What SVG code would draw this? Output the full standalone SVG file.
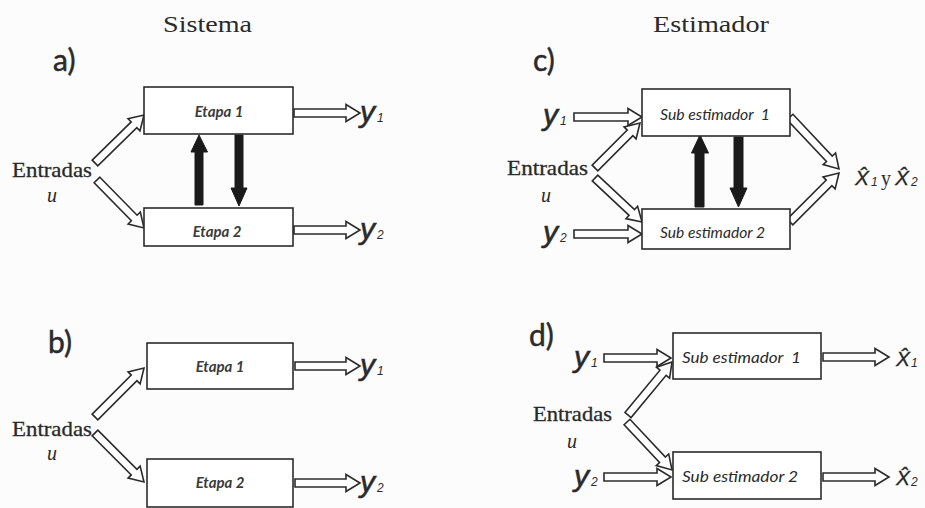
<svg xmlns="http://www.w3.org/2000/svg" width="925" height="508" viewBox="0 0 925 508">
  <style>
    .bg { fill: #fcfcfc; }
    .box { fill: #ffffff; stroke: #2b2b2b; stroke-width: 1.6; }
    .hollow { fill: #ffffff; stroke: #2b2b2b; stroke-width: 1.6; stroke-linejoin: miter; }
    .solid { fill: #1a1a1a; stroke: #1a1a1a; stroke-width: 1; }
    .title { font-family: "Liberation Serif", "DejaVu Serif", serif; font-size: 24px; fill: #2a2a2a; }
    .tag { font-family: Lato, "Open Sans", sans-serif; font-size: 30px; fill: #2a2a2a; stroke: #2a2a2a; stroke-width: 0.5; }
    .inp { font-family: "Liberation Serif", "DejaVu Serif", serif; font-size: 21px; fill: #2a2a2a; stroke: #2a2a2a; stroke-width: 0.3; }
    .u { font-family: "Liberation Serif", "DejaVu Serif", serif; font-style: italic; font-size: 20px; fill: #2a2a2a; }
    .stage { font-family: Lato, "Open Sans", sans-serif; font-style: italic; font-weight: bold; font-size: 15px; fill: #3a3a3a; }
    .sub { font-family: Lato, "Open Sans", sans-serif; font-style: italic; font-size: 15px; fill: #2a2a2a; }
    .sig { font-family: "Liberation Sans", Arial, sans-serif; font-style: italic; font-size: 30px; fill: #2a2a2a; stroke: #2a2a2a; stroke-width: 0.6; }
    .idx { font-family: "Liberation Sans", Arial, sans-serif; font-style: italic; font-size: 12px; fill: #2a2a2a; }
    .est { font-family: "Liberation Sans", Arial, sans-serif; font-style: italic; font-size: 21px; fill: #2a2a2a; stroke: #2a2a2a; stroke-width: 0.3; }
    .y { font-family: "Liberation Serif", "DejaVu Serif", serif; font-size: 20px; fill: #2a2a2a; }
  </style>

  <rect class="bg" x="0" y="0" width="925" height="508"/>

  <!-- column titles and panel tags -->
  <g id="titles">
    <text class="title" x="163" y="32" textLength="89" lengthAdjust="spacingAndGlyphs">Sistema</text>
    <text class="title" x="653" y="32" textLength="116" lengthAdjust="spacingAndGlyphs">Estimador</text>
    <text class="tag" x="53" y="71">a)</text>
    <text class="tag" x="48" y="353">b)</text>
    <text class="tag" x="533" y="71">c)</text>
    <text class="tag" x="529" y="346">d)</text>
  </g>

  <!-- connectors: hollow block arrows (drawn along +x, then placed) and solid coupling arrows -->
  <g id="connectors">
    <!-- a) -->
    <path class="hollow" transform="translate(95,163) rotate(-44.4)" d="M0,-4 H54.6 V-8.5 L68.6,0 L54.6,8.5 V4 H0 Z"/>
    <path class="hollow" transform="translate(97,180) rotate(45.6)" d="M0,-4 H53.2 V-8.5 L67.2,0 L53.2,8.5 V4 H0 Z"/>
    <path class="hollow" transform="translate(294,113)" d="M0,-4 H52 V-8.5 L66,0 L52,8.5 V4 H0 Z"/>
    <path class="hollow" transform="translate(294,230)" d="M0,-4 H52 V-8.5 L66,0 L52,8.5 V4 H0 Z"/>
    <path class="solid" d="M195,205 V152 H191 L199,135 L207.5,152 H203 V205 Z"/>
    <path class="solid" d="M235,135 V188 H231 L239,206 L247,188 H243 V135 Z"/>

    <!-- b) -->
    <path class="hollow" transform="translate(95,417) rotate(-45)" d="M0,-4 H55.3 V-8.5 L69.3,0 L55.3,8.5 V4 H0 Z"/>
    <path class="hollow" transform="translate(95,433) rotate(45)" d="M0,-4 H55.3 V-8.5 L69.3,0 L55.3,8.5 V4 H0 Z"/>
    <path class="hollow" transform="translate(295,366)" d="M0,-4 H51 V-8.5 L65,0 L51,8.5 V4 H0 Z"/>
    <path class="hollow" transform="translate(295,483)" d="M0,-4 H51 V-8.5 L65,0 L51,8.5 V4 H0 Z"/>

    <!-- c) -->
    <path class="hollow" transform="translate(574,117)" d="M0,-4 H54 V-8.5 L68,0 L54,8.5 V4 H0 Z"/>
    <path class="hollow" transform="translate(574,234)" d="M0,-4 H54 V-8.5 L68,0 L54,8.5 V4 H0 Z"/>
    <path class="hollow" transform="translate(595,168) rotate(-45)" d="M0,-4 H49.6 V-8.5 L63.6,0 L49.6,8.5 V4 H0 Z"/>
    <path class="hollow" transform="translate(595,178) rotate(43.1)" d="M0,-4 H50.4 V-8.5 L64.4,0 L50.4,8.5 V4 H0 Z"/>
    <path class="hollow" transform="translate(790,117) rotate(46.7)" d="M0,-4 H57.4 V-8.5 L71.4,0 L57.4,8.5 V4 H0 Z"/>
    <path class="hollow" transform="translate(790,222) rotate(-45)" d="M0,-4 H55.3 V-8.5 L69.3,0 L55.3,8.5 V4 H0 Z"/>
    <path class="solid" d="M695,207 V153 H691.5 L700,135 L708.5,153 H704 V207 Z"/>
    <path class="solid" d="M734,137 V188 H730 L738.5,207 L747,188 H743 V137 Z"/>

    <!-- d) -->
    <path class="hollow" transform="translate(604,358)" d="M0,-4 H53 V-8.5 L67,0 L53,8.5 V4 H0 Z"/>
    <path class="hollow" transform="translate(604,477)" d="M0,-4 H53 V-8.5 L67,0 L53,8.5 V4 H0 Z"/>
    <path class="hollow" transform="translate(628,415) rotate(-50.3)" d="M0,-4 H54.9 V-8.5 L68.9,0 L54.9,8.5 V4 H0 Z"/>
    <path class="hollow" transform="translate(627,422) rotate(46.8)" d="M0,-4 H51.8 V-8.5 L65.8,0 L51.8,8.5 V4 H0 Z"/>
    <path class="hollow" transform="translate(823,357)" d="M0,-4 H52 V-8.5 L66,0 L52,8.5 V4 H0 Z"/>
    <path class="hollow" transform="translate(823,477)" d="M0,-4 H52 V-8.5 L66,0 L52,8.5 V4 H0 Z"/>
  </g>

  <!-- a) coupled system -->
  <g id="a-etapa1">
    <rect class="box" x="144" y="87" width="149" height="47"/>
    <text class="stage" x="219" y="117" text-anchor="middle">Etapa 1</text>
  </g>
  <g id="a-etapa2">
    <rect class="box" x="144" y="208" width="149" height="38"/>
    <text class="stage" x="217" y="237" text-anchor="middle">Etapa 2</text>
  </g>
  <g id="a-inputs">
    <text class="inp" x="12" y="177" textLength="80" lengthAdjust="spacingAndGlyphs">Entradas</text>
    <text class="u" x="47" y="202">u</text>
  </g>
  <g id="a-outputs">
    <text class="sig" x="360" y="122">y</text><text class="idx" x="377" y="122">1</text>
    <text class="sig" x="360" y="239">y</text><text class="idx" x="377" y="239">2</text>
  </g>

  <!-- b) decoupled system -->
  <g id="b-etapa1">
    <rect class="box" x="147" y="343" width="146" height="46"/>
    <text class="stage" x="220" y="372" text-anchor="middle">Etapa 1</text>
  </g>
  <g id="b-etapa2">
    <rect class="box" x="147" y="459" width="146" height="48"/>
    <text class="stage" x="220" y="488" text-anchor="middle">Etapa 2</text>
  </g>
  <g id="b-inputs">
    <text class="inp" x="12" y="436" textLength="80" lengthAdjust="spacingAndGlyphs">Entradas</text>
    <text class="u" x="47" y="460">u</text>
  </g>
  <g id="b-outputs">
    <text class="sig" x="360" y="375">y</text><text class="idx" x="377" y="375">1</text>
    <text class="sig" x="360" y="492">y</text><text class="idx" x="377" y="492">2</text>
  </g>

  <!-- c) coupled estimator -->
  <g id="c-sub1">
    <rect class="box" x="642" y="89" width="148" height="47"/>
    <text class="sub" x="660" y="120" textLength="110" lengthAdjust="spacingAndGlyphs" xml:space="preserve">Sub estimador  1</text>
  </g>
  <g id="c-sub2">
    <rect class="box" x="642" y="209" width="148" height="40"/>
    <text class="sub" x="660" y="238" textLength="105" lengthAdjust="spacingAndGlyphs">Sub estimador 2</text>
  </g>
  <g id="c-inputs">
    <text class="sig" x="543" y="125">y</text><text class="idx" x="560" y="125">1</text>
    <text class="sig" x="543" y="242">y</text><text class="idx" x="560" y="242">2</text>
    <text class="inp" x="507" y="175" textLength="81" lengthAdjust="spacingAndGlyphs">Entradas</text>
    <text class="u" x="541" y="202">u</text>
  </g>
  <g id="c-outputs">
    <text class="est" x="855" y="185">X&#x302;</text><text class="idx" x="871" y="186">1</text>
    <text class="y" x="881" y="185">y</text>
    <text class="est" x="895" y="185">X&#x302;</text><text class="idx" x="911" y="186">2</text>
  </g>

  <!-- d) decoupled estimator -->
  <g id="d-sub1">
    <rect class="box" x="673" y="333" width="148" height="46"/>
    <text class="sub" x="682" y="363" textLength="119" lengthAdjust="spacingAndGlyphs" xml:space="preserve">Sub estimador  1</text>
  </g>
  <g id="d-sub2">
    <rect class="box" x="673" y="452" width="148" height="47"/>
    <text class="sub" x="682" y="482" textLength="116" lengthAdjust="spacingAndGlyphs">Sub estimador 2</text>
  </g>
  <g id="d-inputs">
    <text class="sig" x="574" y="367">y</text><text class="idx" x="591" y="367">1</text>
    <text class="sig" x="574" y="486">y</text><text class="idx" x="591" y="486">2</text>
    <text class="inp" x="533" y="421" textLength="79" lengthAdjust="spacingAndGlyphs">Entradas</text>
    <text class="u" x="567" y="448">u</text>
  </g>
  <g id="d-outputs">
    <text class="est" x="896" y="366">X&#x302;</text><text class="idx" x="911" y="367">1</text>
    <text class="est" x="896" y="485">X&#x302;</text><text class="idx" x="911" y="486">2</text>
  </g>
</svg>
